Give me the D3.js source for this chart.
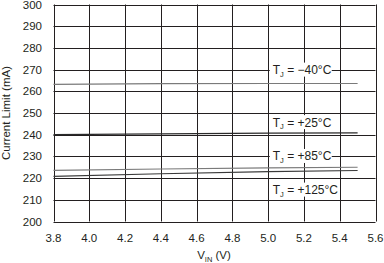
<!DOCTYPE html>
<html>
<head>
<meta charset="utf-8">
<script src="https://cdn.jsdelivr.net/npm/d3@7"></script>
<style>
  body { margin: 0; background: #fff; }
  text { font-family: "Liberation Sans", Arial, sans-serif; fill: #231f20; }
</style>
</head>
<body>
<div id="chart"></div>
<script>
// Data
const vin = [3.8, 4.4, 5.0, 5.5];
const series = [
  { name: "-40", values: [263.2, 263.5, 263.6, 263.6] },
  { name: "+25", values: [240.0, 240.4, 240.7, 240.8] },
  { name: "+85", values: [223.6, 224.2, 224.7, 225.0] },
  { name: "+125", values: [220.8, 222.0, 223.0, 223.5] }
];
const xTicks = [3.8, 4.0, 4.2, 4.4, 4.6, 4.8, 5.0, 5.2, 5.4, 5.6];
const yTicks = [200, 210, 220, 230, 240, 250, 260, 270, 280, 290, 300];
// label text and anchor (x in V, y in mA)
const labelText = ["\u221240\u00b0C", "+25\u00b0C", "+85\u00b0C", "+125\u00b0C"];
const labelAt = [[5.02, 270], [5.02, 245.8], [5.02, 230.2], [5.02, 214.7]];

const width = 384, height = 263;
const svg = d3.select("#chart").append("svg")
  .attr("width", width)
  .attr("height", height);

const x = d3.scaleLinear().domain([3.8, 5.6]).range([53.5, 375.5]);
const y = d3.scaleLinear().domain([200, 300]).range([221.5, 4.5]);

// grid
svg.append("g").selectAll("line")
  .data(xTicks)
  .enter().append("line")
  .attr("x1", d => Math.round(x(d)) + 0.5)
  .attr("x2", d => Math.round(x(d)) + 0.5)
  .attr("y1", y(300)).attr("y2", y(200))
  .attr("stroke", "#231f20").attr("stroke-width", 1);

svg.append("g").selectAll("line")
  .data(yTicks)
  .enter().append("line")
  .attr("y1", d => Math.round(y(d)) + 0.5)
  .attr("y2", d => Math.round(y(d)) + 0.5)
  .attr("x1", x(3.8)).attr("x2", x(5.6))
  .attr("stroke", "#231f20").attr("stroke-width", 1);

// data lines
const line = d3.line()
  .x((d, i) => x(vin[i]))
  .y(d => y(d));
const lineColors = ["#7a7a7a", "#2a2a2a", "#7a7a7a", "#3a3a3a"];
svg.append("g").selectAll("path")
  .data(series)
  .enter().append("path")
  .attr("d", d => line(d.values))
  .attr("fill", "none")
  .attr("stroke", (d, i) => lineColors[i])
  .attr("stroke-width", 1.2);

// labels with white boxes
const lab = svg.append("g").selectAll("g")
  .data(labelText)
  .enter().append("g")
  .attr("transform", (d, i) => `translate(${x(labelAt[i][0])},${y(labelAt[i][1])})`);
lab.append("rect")
  .attr("x", -2).attr("y", -7)
  .attr("width", (d, i) => i === 3 ? 68 : 62)
  .attr("height", 14)
  .attr("fill", "#fff");
const lt = lab.append("text")
  .attr("x", 1).attr("y", 4.5)
  .attr("font-size", 12);
lt.append("tspan").text("T");
lt.append("tspan").attr("font-size", 7.5).attr("dy", 2.5).text("J");
lt.append("tspan").attr("dy", -2.5).text(d => " = " + d);

// tick labels
svg.append("g").selectAll("text")
  .data(yTicks)
  .enter().append("text")
  .attr("x", 42)
  .attr("y", d => y(d) + 4)
  .attr("text-anchor", "end")
  .attr("font-size", 11.5)
  .text(d => d);

svg.append("g").selectAll("text")
  .data(xTicks)
  .enter().append("text")
  .attr("x", d => x(d))
  .attr("y", 242)
  .attr("text-anchor", "middle")
  .attr("font-size", 11.5)
  .text(d => d.toFixed(1));

// axis titles
svg.append("text")
  .attr("transform", "translate(10,113) rotate(-90)")
  .attr("text-anchor", "middle")
  .attr("font-size", 11.5)
  .text("Current Limit (mA)");

const xt = svg.append("text")
  .attr("x", 214).attr("y", 259)
  .attr("text-anchor", "middle")
  .attr("font-size", 11.5);
xt.append("tspan").text("V");
xt.append("tspan").attr("font-size", 7.5).attr("dy", 2.5).text("IN");
xt.append("tspan").attr("dy", -2.5).text(" (V)");
</script>
</body>
</html>
